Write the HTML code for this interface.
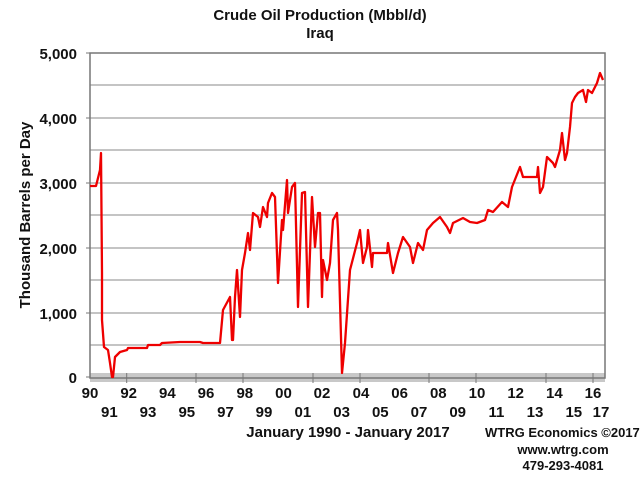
<!DOCTYPE html>
<html><head><meta charset="utf-8"><style>
body{margin:0;background:#fff;}
svg text{font-family:"Liberation Sans",Arial,sans-serif;font-weight:bold;fill:#111;}
</style></head><body>
<svg width="640" height="480" viewBox="0 0 640 480" xmlns="http://www.w3.org/2000/svg">
<text x="320" y="20" font-size="15" text-anchor="middle">Crude Oil Production (Mbbl/d)</text>
<text x="320" y="38" font-size="15" text-anchor="middle">Iraq</text>
<g stroke="#b0b0b0" stroke-width="1.5">
<line x1="90" y1="85" x2="605" y2="85"/><line x1="90" y1="118" x2="605" y2="118"/>
<line x1="90" y1="150" x2="605" y2="150"/><line x1="90" y1="183" x2="605" y2="183"/>
<line x1="90" y1="215" x2="605" y2="215"/><line x1="90" y1="248" x2="605" y2="248"/>
<line x1="90" y1="280" x2="605" y2="280"/><line x1="90" y1="313" x2="605" y2="313"/>
<line x1="90" y1="345" x2="605" y2="345"/>
</g>
<rect x="90" y="373" width="515" height="9" fill="#c8c8c8"/>
<rect x="90" y="53" width="515" height="325" fill="none" stroke="#777" stroke-width="1.5"/>
<g stroke="#777" stroke-width="1">
<line x1="86" y1="53" x2="90" y2="53"/><line x1="86" y1="118" x2="90" y2="118"/><line x1="86" y1="183" x2="90" y2="183"/><line x1="86" y1="248" x2="90" y2="248"/><line x1="86" y1="313" x2="90" y2="313"/><line x1="86" y1="377" x2="90" y2="377"/>
<line x1="126.7" y1="373" x2="126.7" y2="383"/><line x1="196" y1="373" x2="196" y2="383"/><line x1="243" y1="373" x2="243" y2="383"/><line x1="313" y1="373" x2="313" y2="383"/><line x1="360" y1="373" x2="360" y2="383"/><line x1="429" y1="373" x2="429" y2="383"/><line x1="476" y1="373" x2="476" y2="383"/><line x1="546" y1="373" x2="546" y2="383"/><line x1="593" y1="373" x2="593" y2="383"/>
</g>
<g font-size="15" text-anchor="end">
<text x="77" y="59">5,000</text><text x="77" y="124">4,000</text><text x="77" y="189">3,000</text><text x="77" y="254">2,000</text><text x="77" y="319">1,000</text><text x="77" y="383">0</text>
</g>
<text transform="translate(30,215) rotate(-90)" font-size="15" text-anchor="middle">Thousand Barrels per Day</text>
<g font-size="15" text-anchor="middle">
<text x="90" y="398">90</text><text x="128.7" y="398">92</text><text x="167.4" y="398">94</text><text x="206" y="398">96</text><text x="244.8" y="398">98</text><text x="283.5" y="398">00</text><text x="322" y="398">02</text><text x="361" y="398">04</text><text x="399.6" y="398">06</text><text x="438.3" y="398">08</text><text x="477" y="398">10</text><text x="515.7" y="398">12</text><text x="554.4" y="398">14</text><text x="593" y="398">16</text>
<text x="109.4" y="417">91</text><text x="148" y="417">93</text><text x="186.8" y="417">95</text><text x="225.5" y="417">97</text><text x="264" y="417">99</text><text x="302.9" y="417">01</text><text x="341.6" y="417">03</text><text x="380.3" y="417">05</text><text x="419" y="417">07</text><text x="457.7" y="417">09</text><text x="496.4" y="417">11</text><text x="535" y="417">13</text><text x="573.8" y="417">15</text><text x="601" y="417">17</text>
</g>
<text x="348" y="437" font-size="15" text-anchor="middle">January 1990 - January 2017</text>
<text x="485" y="437" font-size="13">WTRG Economics  ©2017</text>
<text x="563" y="454" font-size="13" text-anchor="middle">www.wtrg.com</text>
<text x="563" y="470" font-size="13" text-anchor="middle">479-293-4081</text>
<polyline fill="none" stroke="#ee0000" stroke-width="2.3" stroke-linejoin="round" points="90,186 96,186 100,170 101,153 102,273 102,320 104,347 108,350 110,363 112,377 113,377 115,357 120,352 127,350 128,348 147,348 148,345 160,345 162,343 180,342 200,342 203,343 220,343 223,310 230,297 232,340 233,340 235,297 237,270 240,317 242,270 245,253 248,233 250,250 253,213 258,217 260,227 263,207 267,217 268,203 272,193 275,197 278,283 282,220 283,230 287,180 288,213 292,187 295,183 298,307 302,193 305,192 308,307 312,197 315,247 318,213 320,213 322,297 323,260 327,280 330,263 333,220 337,213 338,230 342,373 345,343 350,270 357,243 360,230 363,263 367,247 368,230 372,267 373,253 387,253 388,243 393,273 398,253 403,237 410,247 413,263 418,243 423,250 427,230 433,223 440,217 447,227 450,233 453,223 463,218 470,222 477,223 485,220 488,210 493,212 502,202 508,207 512,187 520,167 523,177 530,177 537,177 538,167 540,193 543,187 547,157 553,163 555,167 560,150 562,133 565,160 567,153 570,127 572,103 575,97 578,93 583,90 586,102 588,90 592,93 597,83 600,73 603,80"/>
</svg>
</body></html>
